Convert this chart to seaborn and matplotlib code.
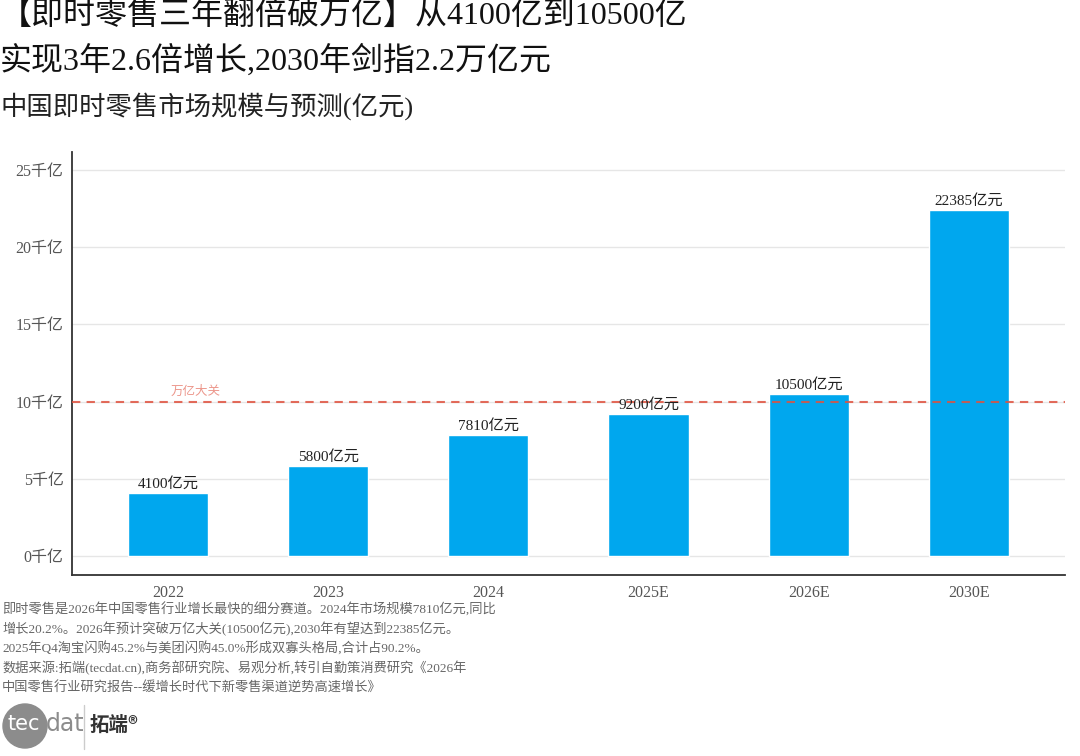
import numpy as np
import pandas as pd
import matplotlib
matplotlib.use("Agg")
import matplotlib.pyplot as plt
from matplotlib.ticker import FuncFormatter
from matplotlib.patches import Circle
import seaborn as sns

# --- data ---
years = ["2022", "2023", "2024", "2025E", "2026E", "2030E"]
scale_yi = [4100, 5800, 7810, 9200, 10500, 22385]  # 亿元
threshold_yi = 10000
y_ticks = [0, 5000, 10000, 15000, 20000, 25000]

title_1 = "【即时零售三年翻倍破万亿】从4100亿到10500亿"
title_2 = "实现3年2.6倍增长,2030年剑指2.2万亿元"
subtitle = "中国即时零售市场规模与预测(亿元)"
notes = [
    "即时零售是2026年中国零售行业增长最快的细分赛道。2024年市场规模7810亿元,同比",
    "增长20.2%。2026年预计突破万亿大关(10500亿元),2030年有望达到22385亿元。",
    "2025年Q4淘宝闪购45.2%与美团闪购45.0%形成双寡头格局,合计占90.2%。",
    "数据来源:拓端(tecdat.cn),商务部研究院、易观分析,转引自勤策消费研究《2026年",
    "中国零售行业研究报告--缓增长时代下新零售渠道逆势高速增长》",
]

df = pd.DataFrame({"year": years, "scale": scale_yi})

sns.set_theme(style="white")
FONTS = ["Liberation Serif", "Noto Sans CJK SC", "DejaVu Sans"]
plt.rcParams["font.family"] = FONTS

BAR_COLOR = "#00A7EE"
RED = "#E0523F"

fig = plt.figure(figsize=(10.8, 7.56), dpi=100)
ax = fig.add_axes([0.0667, 0.2394, 0.9193, 0.5596])

sns.barplot(data=df, x="year", y="scale", color=BAR_COLOR, width=0.5,
            saturation=1, ax=ax, zorder=2)

ax.set_xlim(-0.6, 5.6)
ax.set_ylim(-1230, 26170)
ax.set_yticks(y_ticks)
ax.yaxis.set_major_formatter(FuncFormatter(lambda v, p: f"{int(v / 1000)}千亿"))
ax.grid(axis="y", color="#E6E6E6", linewidth=1, zorder=0)
ax.set_axisbelow(True)
ax.set_xlabel("")
ax.set_ylabel("")
ax.tick_params(axis="both", length=0, labelsize=11.5, colors="#555555")
ax.tick_params(axis="x", pad=7)
ax.tick_params(axis="y", pad=6)
for s in ["top", "right"]:
    ax.spines[s].set_visible(False)
for s in ["left", "bottom"]:
    ax.spines[s].set_color("#333333")
    ax.spines[s].set_linewidth(1.3)

# value labels
for i, v in enumerate(scale_yi):
    ax.text(i, v + 150, f"{v}亿元", ha="center", va="bottom",
            fontsize=11, color="#222222", zorder=5)

# threshold line
ax.axhline(threshold_yi, color=RED, linestyle=(0, (4, 3)), linewidth=1.5,
           alpha=0.85, zorder=4)
ax.text(0.17, threshold_yi + 250, "万亿大关", ha="center", va="bottom",
        fontsize=9, color=RED, alpha=0.6, zorder=4)

# titles
fig.text(0.0, 1.0 - 17 / 756, title_1, fontsize=23, color="#111111", va="center", ha="left")
fig.text(0.0, 1.0 - 61 / 756, title_2, fontsize=23, color="#111111", va="center", ha="left")
fig.text(0.0, 1.0 - 106 / 756, subtitle, fontsize=19, color="#222222", va="center", ha="left")

# footnotes
for k, line in enumerate(notes):
    fig.text(0.002, 1.0 - (610 + k * 19.5) / 756, line, fontsize=9.5,
             color="#666666", va="center", ha="left")

# logo
logo_ax = fig.add_axes([0, 0, 1, 1], facecolor="none")
logo_ax.set_xlim(0, 1080)
logo_ax.set_ylim(756, 0)
logo_ax.axis("off")
logo_ax.add_patch(Circle((25, 726), 22, color="#8C8C8C"))
logo_ax.text(24, 724, "tec", fontsize=15, color="white", ha="center", va="center",
             family="DejaVu Sans Condensed")
logo_ax.text(46, 724, "dat", fontsize=17, color="#8C8C8C", ha="left", va="center",
             family="DejaVu Sans Condensed")
logo_ax.plot([84, 84], [705, 749], color="#CCCCCC", linewidth=1)
logo_ax.text(90, 725, "拓端®", fontsize=14, color="#333333", ha="left", va="center",
             fontweight="bold", family=["Noto Sans CJK SC", "DejaVu Sans"])

fig.savefig("out.png", dpi=100)
